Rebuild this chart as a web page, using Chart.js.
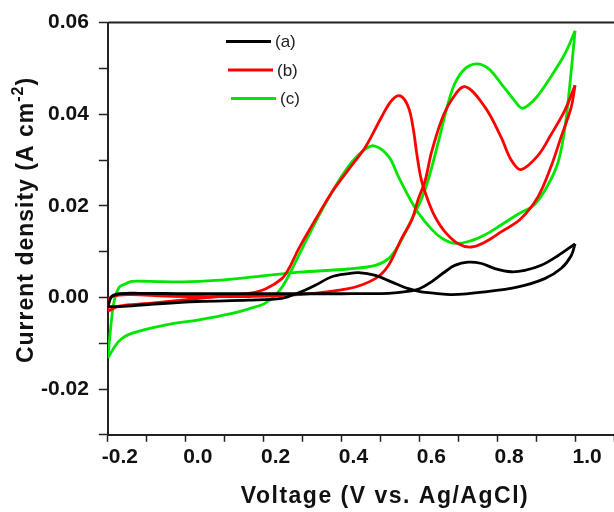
<!DOCTYPE html>
<html>
<head>
<meta charset="utf-8">
<script src="https://cdn.jsdelivr.net/npm/chart.js@4/dist/chart.umd.min.js"></script>
<style>
  html, body { margin: 0; padding: 0; background: #fff; overflow: hidden; }
  #wrap { width: 614px; height: 512px; overflow: hidden; }
  #box { width: 617px; height: 512px; }
</style>
</head>
<body>
<div id="wrap"><div id="box"><canvas id="cv"></canvas></div></div>
<script>
// Cyclic voltammograms (V vs. Ag/AgCl, A cm-2)
const seriesNames = ['(a)', '(b)', '(c)'];
const seriesColors = ['#000000', '#ff0000', '#00e600'];
const voltageTicks = [-0.2, 0.0, 0.2, 0.4, 0.6, 0.8, 1.0];
const currentTicks = [-0.02, 0.00, 0.02, 0.04, 0.06];
const xTitle = 'Voltage (V vs. Ag/AgCl)';
const yTitle = ['Current density (A cm', '-2', ')'];

// (a) forward / reverse scan
const aFwdV = [-0.2, -0.19, -0.17, -0.12, 0.0, 0.2, 0.4, 0.52, 0.57, 0.6, 0.631, 0.666, 0.691, 0.725, 0.76, 0.794, 0.836, 0.871, 0.913, 0.956, 1.0];
const aFwdJ = [-0.002, 0.0002, 0.0008, 0.0009, 0.0008, 0.0008, 0.0008, 0.0009, 0.0013, 0.0019, 0.0034, 0.0056, 0.007, 0.0077, 0.0074, 0.0063, 0.0056, 0.0059, 0.007, 0.0091, 0.0117];
const aRevV = [1.0, 0.99, 0.964, 0.922, 0.854, 0.768, 0.683, 0.641, 0.605, 0.572, 0.528, 0.487, 0.444, 0.418, 0.375, 0.334, 0.29, 0.247, 0.16, 0.03, -0.09, -0.17, -0.2];
const aRevJ = [0.0117, 0.0091, 0.0063, 0.0041, 0.0023, 0.0012, 0.0006, 0.0009, 0.0012, 0.0019, 0.0034, 0.0048, 0.0054, 0.0052, 0.0045, 0.0027, 0.001, -0.0002, -0.0006, -0.0009, -0.0015, -0.002, -0.002];

// (b)
const bFwdV = [-0.2, -0.196, -0.171, -0.138, -0.05, 0.034, 0.162, 0.29, 0.418, 0.487, 0.52, 0.554, 0.58, 0.597, 0.615, 0.631, 0.657, 0.682, 0.717, 0.769, 0.81, 0.836, 0.861, 0.905, 0.938, 0.974, 1.0];
const bFwdJ = [-0.003, -0.0002, 0.0005, 0.0006, 0.0003, 0.0002, 0.0002, 0.0006, 0.0019, 0.0041, 0.0069, 0.0128, 0.0168, 0.0214, 0.0255, 0.0316, 0.0387, 0.043, 0.046, 0.0415, 0.035, 0.030, 0.0279, 0.031, 0.0355, 0.0409, 0.0463];
const bRevV = [1.0, 0.99, 0.964, 0.938, 0.905, 0.86, 0.81, 0.769, 0.733, 0.700, 0.666, 0.641, 0.623, 0.605, 0.593, 0.585, 0.572, 0.551, 0.529, 0.503, 0.462, 0.418, 0.375, 0.334, 0.29, 0.265, 0.247, 0.206, 0.162, 0.034, -0.094, -0.171, -0.2];
const bRevJ = [0.0463, 0.0415, 0.035, 0.0285, 0.022, 0.0171, 0.0143, 0.0121, 0.011, 0.0117, 0.0143, 0.0175, 0.021, 0.0257, 0.0316, 0.0365, 0.0415, 0.044, 0.043, 0.0394, 0.0329, 0.0279, 0.0229, 0.0171, 0.0106, 0.0063, 0.0041, 0.0019, 0.0009, -0.0002, -0.0013, -0.0019, -0.003];

// (c)
const cFwdV = [-0.2, -0.192, -0.184, -0.171, -0.154, -0.138, -0.094, -0.009, 0.077, 0.188, 0.29, 0.418, 0.487, 0.52, 0.546, 0.572, 0.605, 0.623, 0.649, 0.674, 0.691, 0.717, 0.746, 0.777, 0.81, 0.846, 0.865, 0.9, 0.938, 0.974, 1.0];
const cFwdJ = [-0.0132, -0.006, -0.0009, 0.0022, 0.003, 0.0035, 0.0035, 0.0034, 0.0037, 0.0046, 0.0055, 0.0062, 0.007, 0.0084, 0.0113, 0.0156, 0.0214, 0.0257, 0.034, 0.0424, 0.0467, 0.0499, 0.051, 0.050, 0.0467, 0.0428, 0.0413, 0.0436, 0.0482, 0.0532, 0.0582];
const cRevV = [1.0, 0.986, 0.973, 0.956, 0.93, 0.896, 0.85, 0.81, 0.769, 0.726, 0.691, 0.66, 0.631, 0.597, 0.572, 0.546, 0.521, 0.483, 0.452, 0.418, 0.375, 0.333, 0.29, 0.247, 0.205, 0.162, 0.119, 0.034, -0.05, -0.137, -0.171, -0.2];
const cRevJ = [0.0582, 0.0459, 0.0365, 0.0294, 0.0245, 0.0203, 0.018, 0.0158, 0.0137, 0.0122, 0.0118, 0.0128, 0.0149, 0.0185, 0.0221, 0.0264, 0.0308, 0.0331, 0.0318, 0.0286, 0.0229, 0.0164, 0.0091, 0.0022, -0.0012, -0.0025, -0.0035, -0.0049, -0.006, -0.0078, -0.0095, -0.0132];

const FONT = '"Liberation Sans", Arial, sans-serif';

function pts(vs, js) {
    return vs.map((v, i) => ({ x: v, y: js[i] }));
}

function scan(vs, js, colorIdx) {
    return {
        data: pts(vs, js),
        borderColor: seriesColors[colorIdx],
        borderWidth: 2.8,
        pointRadius: 0,
        showLine: true,
        fill: false,
        tension: 0.35
    };
}

function near(list, v) {
    return list.some(t => Math.abs(t - v) < 1e-6);
}

// legend inside the plot, top frame line and both axis titles
const insideBits = {
    id: 'insideBits',
    afterDraw(chart) {
        const ctx = chart.ctx;
        const area = chart.chartArea;
        ctx.save();
        ctx.strokeStyle = '#222';
        ctx.lineWidth = 2;
        ctx.beginPath();
        ctx.moveTo(area.left, area.top);
        ctx.lineTo(area.right + 5, area.top);
        ctx.stroke();

        const rows = [[226, 41.5], [228, 70], [231, 98.5]];
        ctx.font = '17px ' + FONT;
        ctx.textBaseline = 'middle';
        seriesNames.forEach((name, i) => {
            const [x, y] = rows[i];
            ctx.strokeStyle = seriesColors[i];
            ctx.lineWidth = 3;
            ctx.beginPath();
            ctx.moveTo(x, y);
            ctx.lineTo(x + 45, y);
            ctx.stroke();
            ctx.fillStyle = '#222';
            ctx.fillText(name, x + 49, y + 1);
        });

        // x title
        ctx.fillStyle = '#111';
        ctx.font = 'bold 23px ' + FONT;
        if ('letterSpacing' in ctx) ctx.letterSpacing = '1.5px';
        ctx.textAlign = 'center';
        ctx.fillText(xTitle, 385, 497);

        // y title with superscript
        if ('letterSpacing' in ctx) ctx.letterSpacing = '1px';
        ctx.translate(27, 220);
        ctx.rotate(-Math.PI / 2);
        ctx.textAlign = 'left';
        const big = 'bold 23px ' + FONT;
        const small = 'bold 16px ' + FONT;
        ctx.font = big;
        const w0 = ctx.measureText(yTitle[0]).width;
        const w2 = ctx.measureText(yTitle[2]).width;
        ctx.font = small;
        const w1 = ctx.measureText(yTitle[1]).width;
        let x = -(w0 + w1 + w2) / 2;
        ctx.font = big;
        ctx.fillText(yTitle[0], x, 0);
        x += w0;
        ctx.font = small;
        ctx.fillText(yTitle[1], x, -8);
        x += w1;
        ctx.font = big;
        ctx.fillText(yTitle[2], x, 0);
        ctx.restore();
    }
};

const config = {
    type: 'scatter',
    data: {
        datasets: [
            scan(aFwdV, aFwdJ, 0), scan(aRevV, aRevJ, 0),
            scan(bFwdV, bFwdJ, 1), scan(bRevV, bRevJ, 1),
            scan(cFwdV, cFwdJ, 2), scan(cRevV, cRevJ, 2)
        ]
    },
    options: {
        responsive: true,
        maintainAspectRatio: false,
        animation: false,
        layout: { padding: { left: 31, top: 21, right: 0, bottom: 39 } },
        plugins: {
            legend: { display: false },
            tooltip: { enabled: false }
        },
        scales: {
            x: {
                type: 'linear',
                min: -0.2,
                max: 1.1,
                grid: {
                    drawOnChartArea: false,
                    drawTicks: true,
                    tickLength: 7,
                    tickColor: '#222',
                    tickWidth: 1.5
                },
                border: { display: true, color: '#222', width: 2 },
                ticks: {
                    stepSize: 0.1,
                    autoSkip: false,
                    maxRotation: 0,
                    labelOffset: 12,
                    padding: 3,
                    color: '#111',
                    font: { family: FONT, size: 21, weight: 'bold' },
                    callback: function(value) {
                        return near(voltageTicks, value) ? value.toFixed(1) : '';
                    }
                }
            },
            y: {
                min: -0.03,
                max: 0.06,
                grid: {
                    drawOnChartArea: false,
                    drawTicks: true,
                    tickLength: 9,
                    tickColor: '#222',
                    tickWidth: 1.5
                },
                border: { display: true, color: '#222', width: 2 },
                ticks: {
                    stepSize: 0.01,
                    autoSkip: false,
                    padding: 10,
                    color: '#111',
                    font: { family: FONT, size: 21, weight: 'bold' },
                    callback: function(value) {
                        return near(currentTicks, value) ? value.toFixed(2) : '';
                    }
                }
            }
        }
    },
    plugins: [insideBits]
};

var cvChart = new Chart(document.getElementById('cv'), config);
</script>
</body>
</html>
